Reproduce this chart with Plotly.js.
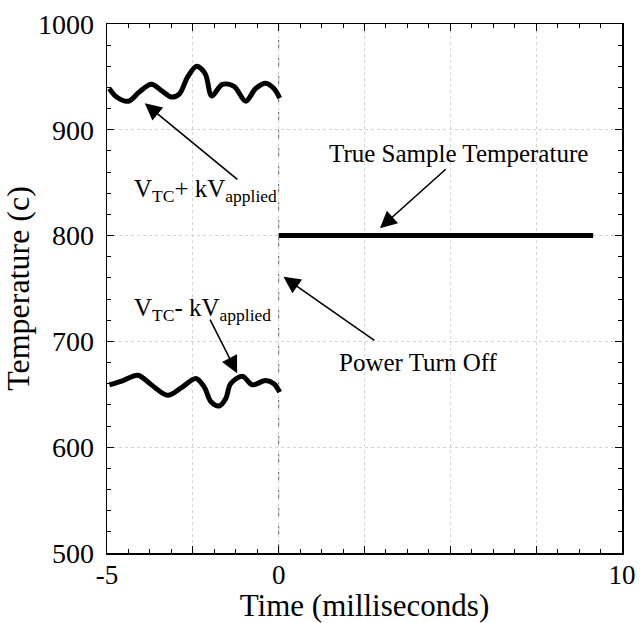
<!DOCTYPE html>
<html>
<head>
<meta charset="utf-8">
<script src="https://cdn.plot.ly/plotly-3.0.1.min.js"></script>
<style>html,body{margin:0;padding:0;background:#fff;}#chart{width:640px;height:623px;}</style>
</head>
<body>
<div id="chart"></div>
<script>
// Data
var timeUpper = [-4.93,-4.72,-4.38,-4.05,-3.71,-3.37,-3.13,-2.89,-2.65,-2.39,-2.14,-1.95,-1.64,-1.30,-0.96,-0.67,-0.38,-0.14,0.03];
var tempUpper = [939,931,927,936,943,936,931,934,950,960,953,932,943,941,927,939,944,939,930];
var timeLower = [-4.93,-4.53,-4.10,-3.71,-3.23,-2.84,-2.41,-2.17,-1.97,-1.73,-1.54,-1.40,-1.06,-0.77,-0.38,-0.14,0.03];
var tempLower = [659,663,668,659,649,656,665,657,643,639,646,660,667,659,663,660,652];
var timeTrue = [0, 9.16];
var tempTrue = [800, 800];
var xTickVals = [-5,-2.5,0,2.5,5,7.5,10];
var xTickText = ['-5','','0','','','','10'];
var yTickVals = [500,600,700,800,900,1000];
var yTickText = ['500','600','700','800','900','1000'];

var serif = 'Liberation Serif, Times New Roman, serif';
var lineStyle = {color:'#000', width:5, shape:'spline', smoothing:0.9};

var traces = [
  {x: timeUpper, y: tempUpper, mode:'lines', line: lineStyle, hoverinfo:'skip'},
  {x: timeLower, y: tempLower, mode:'lines', line: lineStyle, hoverinfo:'skip'},
  {x: timeTrue, y: tempTrue, mode:'lines', line:{color:'#000', width:5}, hoverinfo:'skip'}
];

function arrow(x, y, ax, ay) {
  return {x:x, y:y, ax:ax, ay:ay, xref:'x', yref:'y', axref:'x', ayref:'y',
    text:'', showarrow:true, arrowhead:2, arrowsize:2.1, arrowwidth:1.6, arrowcolor:'#000', standoff:0, startstandoff:0};
}
function label(x, y, text, xanchor) {
  return {x:x, y:y, xref:'x', yref:'y', text:text, showarrow:false, xanchor:xanchor||'center', yanchor:'middle',
    font:{family:serif, size:25, color:'#000'}};
}

var layout = {
  width:640, height:623,
  margin:{l:107, r:18, t:24, b:70},
  paper_bgcolor:'#fff', plot_bgcolor:'#fff',
  showlegend:false,
  font:{family:serif, color:'#000'},
  xaxis:{
    range:[-5,10], tickmode:'array', tickvals:xTickVals, ticktext:xTickText,
    ticks:'inside', ticklen:7, tickwidth:1, tickcolor:'#000',
    showline:true, linecolor:'#000', linewidth:1.5, mirror:'ticks',
    showgrid:true, gridcolor:'#d4d4d4', griddash:'dot', gridwidth:1,
    zeroline:false,
    minor:{tickmode:'linear', tick0:-5, dtick:0.625, ticks:'inside', ticklen:4, tickcolor:'#000', showgrid:false},
    tickfont:{family:serif, size:27, color:'#000'},
    ticklabelstandoff:-3,
    automargin:false,
    title:{text:'Time (milliseconds)', font:{family:serif, size:31, color:'#000'}, standoff:9}
  },
  yaxis:{
    range:[500,1000], tickmode:'array', tickvals:yTickVals, ticktext:yTickText,
    ticks:'inside', ticklen:7, tickwidth:1, tickcolor:'#000',
    showline:true, linecolor:'#000', linewidth:1.5, mirror:'ticks',
    showgrid:true, gridcolor:'#d4d4d4', griddash:'dot', gridwidth:1,
    zeroline:false,
    minor:{tickmode:'linear', tick0:500, dtick:20, ticks:'inside', ticklen:4, tickcolor:'#000', showgrid:false},
    tickfont:{family:serif, size:28, color:'#000'},
    ticklabelstandoff:6,
    title:{text:'Temperature (c)', font:{family:serif, size:32, color:'#000'}, standoff:6}
  },
  shapes:[
    {type:'line', xref:'x', yref:'y', x0:0, x1:0, y0:500, y1:1000, line:{color:'#666', width:1, dash:'dash'}, layer:'below'}
  ],
  annotations:[
    label(5.25, 878, 'True Sample Temperature'),
    arrow(2.95, 807, 4.91, 864),
    label(-4.28, 843, 'V<sub>TC</sub>+ kV<sub>applied</sub>', 'left'),
    arrow(-3.90, 925, -1.16, 852),
    label(-4.28, 730, 'V<sub>TC</sub>- kV<sub>applied</sub>', 'left'),
    arrow(-1.21, 670, -2.02, 722),
    label(4.08, 680, 'Power Turn Off'),
    arrow(0.14, 761, 2.83, 700)
  ]
};

Plotly.newPlot('chart', traces, layout, {staticPlot:true, displayModeBar:false});
</script>
</body>
</html>
